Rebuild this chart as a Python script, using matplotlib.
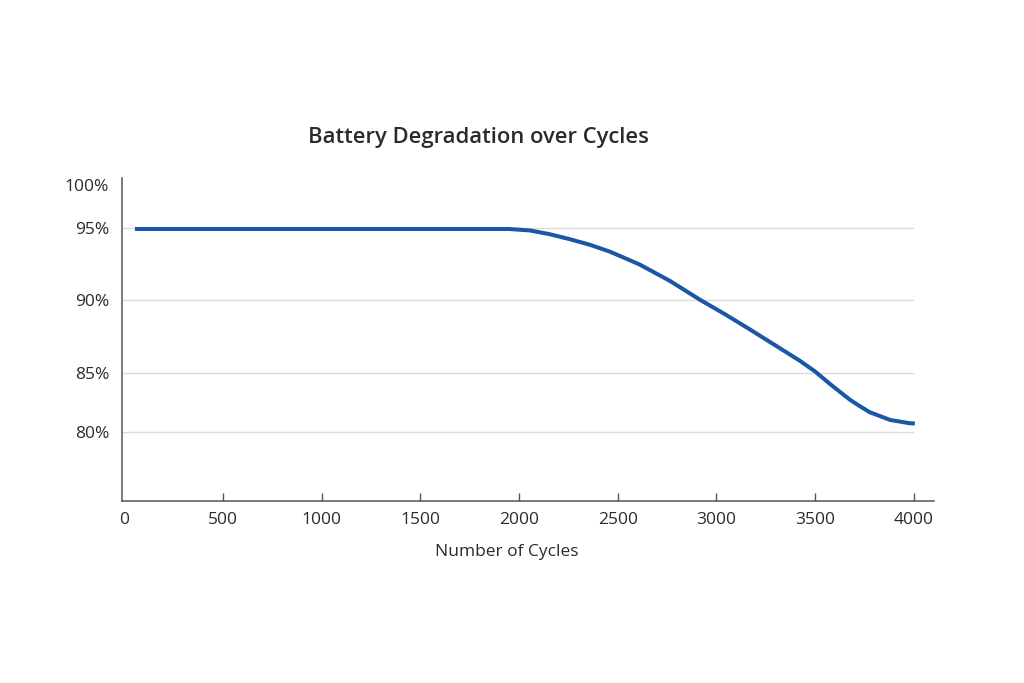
import numpy as np
import matplotlib
matplotlib.use("Agg")
import matplotlib.pyplot as plt

# ---- data ----
cycles = [54, 500, 1000, 1500, 1850, 1950, 2055, 2155, 2255, 2360, 2460, 2610,
          2765, 2915, 3045, 3170, 3295, 3420, 3500, 3575, 3675, 3725, 3775,
          3880, 3980, 4005]
capacity = [94.93, 94.93, 94.93, 94.93, 94.93, 94.93, 94.83, 94.57, 94.23, 93.83,
            93.36, 92.47, 91.32, 90.03, 89.01, 87.98, 86.92, 85.86, 85.10, 84.07,
            82.75, 82.20, 81.69, 81.02, 80.74, 80.72]

x_ticks = [0, 500, 1000, 1500, 2000, 2500, 3000, 3500, 4000]
y_ticks = [80, 85, 90, 95, 100]
y_tick_labels = ["80%", "85%", "90%", "95%", "100%"]
grid_levels = [80, 85, 90, 95]

title = "Battery Degradation over Cycles"
xlabel = "Number of Cycles"

# ---- non-uniform value axis as drawn in the reference ----
_knot_v = np.array([74.2, 80, 85, 90, 95, 100, 100.8])
_knot_p = -np.array([501, 432, 373, 300, 228, 185, 178], dtype=float)

def _fwd(v):
    v = np.asarray(v, dtype=float)
    return np.where(v < _knot_v[0], _knot_p[0] + (v - _knot_v[0]) * 11.8,
                    np.where(v > _knot_v[-1], _knot_p[-1] + (v - _knot_v[-1]) * 8.6,
                             np.interp(v, _knot_v, _knot_p)))

def _inv(p):
    p = np.asarray(p, dtype=float)
    return np.where(p < _knot_p[0], _knot_v[0] + (p - _knot_p[0]) / 11.8,
                    np.where(p > _knot_p[-1], _knot_v[-1] + (p - _knot_p[-1]) / 8.6,
                             np.interp(p, _knot_p, _knot_v)))

plt.rcParams['font.family'] = ['Open Sans', 'DejaVu Sans']
text_color = "#2b2b2b"
axis_color = "#555555"
line_color = "#1c57a5"

fig = plt.figure(figsize=(10.24, 6.83), dpi=100)
fig.patch.set_facecolor("white")
ax = fig.add_axes([121.7 / 1024, (683 - 501) / 683, (934 - 121.7) / 1024, (501 - 178) / 683])

ax.set_yscale('function', functions=(_fwd, _inv))
ax.set_xlim(-13, 4102)
ax.set_ylim(74.2, 100.8)

ax.hlines(grid_levels, -13, 4000, colors="#dcdcdc", linewidth=1.0, zorder=1)
ax.plot(cycles, capacity, color=line_color, linewidth=2.9, solid_capstyle='butt',
        solid_joinstyle='round', zorder=3)

ax.set_xticks(x_ticks)
ax.set_xticklabels([str(t) for t in x_ticks])
ax.set_yticks(y_ticks)
ax.set_yticklabels(y_tick_labels)
ax.minorticks_off()

for s in ["top", "right"]:
    ax.spines[s].set_visible(False)
for s in ["left", "bottom"]:
    ax.spines[s].set_color(axis_color)
    ax.spines[s].set_linewidth(1.1)

ax.tick_params(axis='x', direction='in', length=6, width=1, color=axis_color,
               labelsize=12.5, labelcolor=text_color, pad=8)
ax.tick_params(axis='y', length=0, labelsize=12.5, labelcolor=text_color, pad=9)
ax.xaxis.get_major_ticks()[0].tick1line.set_visible(False)

ax.set_xlabel(xlabel, fontsize=12.5, color=text_color)
ax.xaxis.set_label_coords((507 - 121.7) / (934 - 121.7), -(544 - 501) / (501 - 178))

fig.text(478 / 1024, 1 - 137 / 683, title, fontsize=15.8, fontweight='semibold',
         color=text_color, ha='center', va='center')

fig.savefig("out.png", dpi=100, facecolor="white")
